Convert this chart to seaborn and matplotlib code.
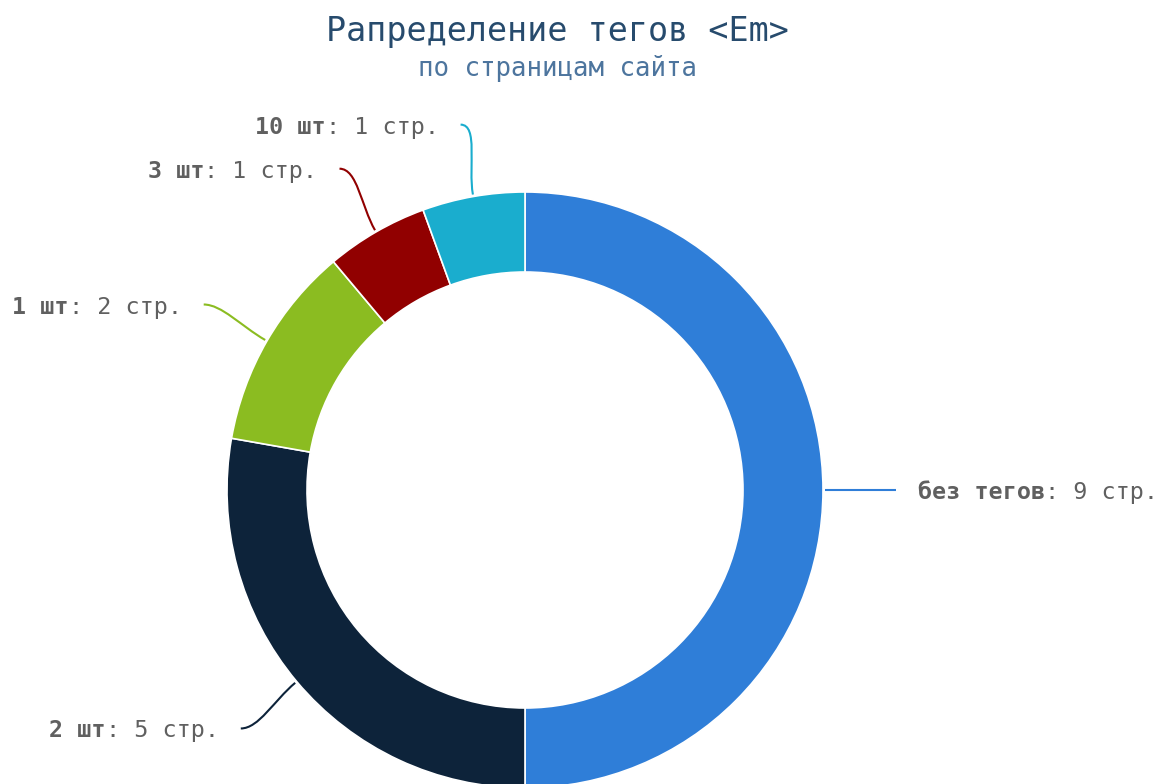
import numpy as np
import matplotlib
matplotlib.use('Agg')
import matplotlib.pyplot as plt
from matplotlib.path import Path
from matplotlib.patches import PathPatch
import seaborn as sns

# data
categories = ['без тегов', '2 шт', '1 шт', '3 шт', '10 шт']
pages = [9, 5, 2, 1, 1]
colors = ['#2f7ed8', '#0d233a', '#8bbc21', '#910000', '#1aadce']

title = 'Рапределение тегов <Em>'
subtitle = 'по страницам сайта'

sns.set_theme(style='white')
plt.rcParams['font.family'] = ['DejaVu Sans Mono', 'DejaVu Sans']

W, H = 1165, 784
fig = plt.figure(figsize=(W / 100, H / 100), dpi=100)
ax = fig.add_axes([0, 0, 1, 1])

cx, cy = 525, H - 490
R = 298
ring = 80

ax.pie(pages, colors=sns.color_palette(colors), startangle=90, counterclock=False,
       center=(cx, cy), radius=R,
       wedgeprops=dict(width=ring, edgecolor='white', linewidth=1.2))
ax.set_xlim(0, W)
ax.set_ylim(0, H)
ax.set_aspect('equal')
ax.axis('off')

# labels with soft connectors
total = sum(pages)
start = 90.0
label_r = 371
gap = 22
fs = 16.8
txt_color = '#606060'
for name, val, col in zip(categories, pages, colors):
    sweep = 360.0 * val / total
    mid = np.radians(start - sweep / 2)
    start -= sweep
    ux, uy = np.cos(mid), np.sin(mid)
    p0 = (cx + (R + 2) * ux, cy + (R + 2) * uy)
    p1 = (cx + (R + 30) * ux, cy + (R + 30) * uy)
    end = (cx + label_r * ux, cy + label_r * uy)
    side = 1 if ux >= 0 else -1
    p2 = (end[0] - side * 18, end[1])
    path = Path([p0, p1, p2, end], [Path.MOVETO, Path.CURVE4, Path.CURVE4, Path.CURVE4])
    ax.add_patch(PathPatch(path, facecolor='none', edgecolor=col, lw=1.5))

    rest = f': {val} стр.'
    tx = end[0] + side * gap
    ty = end[1] - 9
    if side > 0:
        t = ax.text(tx, ty, name, ha='left', va='baseline', fontsize=fs,
                    fontweight='bold', color=txt_color)
        ax.annotate(rest, xy=(1, 0), xycoords=t, ha='left', va='bottom',
                    fontsize=fs, color=txt_color)
    else:
        t = ax.text(tx, ty, rest, ha='right', va='baseline', fontsize=fs,
                    color=txt_color)
        ax.annotate(name, xy=(0, 0), xycoords=t, ha='right', va='bottom',
                    fontsize=fs, fontweight='bold', color=txt_color)

fig.text(557 / W, 1 - 32 / H, title, ha='center', va='center', fontsize=24, color='#274b6d')
fig.text(557 / W, 1 - 69 / H, subtitle, ha='center', va='center', fontsize=18.5, color='#4d759e')

fig.savefig('out.png', dpi=100, facecolor='white')
